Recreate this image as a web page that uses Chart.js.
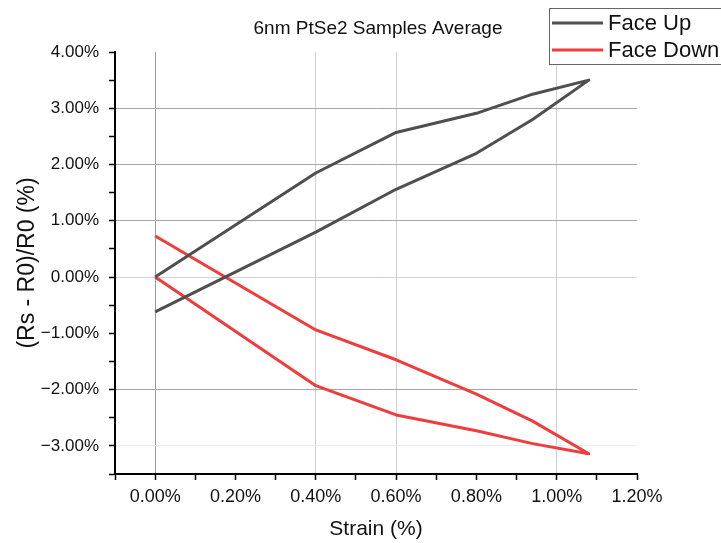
<!DOCTYPE html>
<html>
<head>
<meta charset="utf-8">
<script src="https://cdn.jsdelivr.net/npm/chart.js@4.4.1/dist/chart.umd.min.js"></script>
<style>
  html, body { margin: 0; padding: 0; background: #fff; }
</style>
</head>
<body>
<canvas id="myChart" width="721" height="543"></canvas>
<script>
// Strain (%) and relative resistance change (%)
const strainUp = [0, 0.4, 0.6, 0.8, 0.94, 1.08, 0.94, 0.8, 0.6, 0.4, 0];
const faceUp = [0, 1.85, 2.57, 2.91, 3.25, 3.50, 2.80, 2.20, 1.56, 0.80, -0.62];
const strainDown = [0, 0.4, 0.6, 0.8, 0.94, 1.08, 0.94, 0.8, 0.6, 0.4, 0];
const faceDown = [0, -1.93, -2.45, -2.73, -2.96, -3.14, -2.56, -2.08, -1.47, -0.94, 0.73];

const seriesNames = ['Face Up', 'Face Down'];
const seriesColors = ['#4f4f4f', '#f03c3c'];
const chartTitle = '6nm PtSe2 Samples Average';

const FONT = "'Liberation Sans', Arial, sans-serif";

const toPoints = (xs, ys) => xs.map((x, i) => ({ x: x, y: ys[i] }));
const isMultiple = (v, step) => Math.abs(Math.round(v / step) * step - v) < 1e-6;
const fmtPct = v => (v < -1e-9 ? '\u2212' : '') + Math.abs(v).toFixed(2) + '%';

// grid lines as they show up in the reference (some are lost in resampling)
function xGridColor(v) {
    if (Math.abs(v) < 1e-6) return '#9a9a9a';
    if ([0.4, 0.6, 1.0].some(t => Math.abs(t - v) < 1e-6)) return '#cfcfcf';
    return 'rgba(0,0,0,0)';
}
function yGridColor(v) {
    if ([3, 2, 1, -2].some(t => Math.abs(t - v) < 1e-6)) return '#a5a5a5';
    if (Math.abs(v) < 1e-6) return '#d2d2d2';
    if (Math.abs(v + 3) < 1e-6) return '#ececec';
    return 'rgba(0,0,0,0)';
}

// title and boxed legend, drawn on top of the chart
const overlay = {
    id: 'overlay',
    afterDraw(chart) {
        const ctx = chart.ctx;
        ctx.save();
        ctx.fillStyle = '#111';
        ctx.font = '19px ' + FONT;
        ctx.textAlign = 'center';
        ctx.textBaseline = 'middle';
        ctx.fillText(chartTitle, 378, 29);

        // legend box (runs off the right edge like in the original)
        ctx.fillStyle = '#fff';
        ctx.fillRect(549, 8, 180, 57);
        ctx.strokeStyle = '#666';
        ctx.lineWidth = 1;
        ctx.strokeRect(549.5, 8.5, 180, 56);
        ctx.font = '22px ' + FONT;
        ctx.textAlign = 'left';
        chart.data.datasets.forEach((ds, i) => {
            const y = 23 + i * 27;
            ctx.strokeStyle = ds.borderColor;
            ctx.lineWidth = 3;
            ctx.beginPath();
            ctx.moveTo(552, y);
            ctx.lineTo(603, y);
            ctx.stroke();
            ctx.fillStyle = '#111';
            ctx.fillText(ds.label, 608, y + 1);
        });
        ctx.restore();
    }
};

const ctx = document.getElementById('myChart').getContext('2d');

new Chart(ctx, {
    type: 'scatter',
    data: {
        datasets: [
            {
                label: seriesNames[0],
                data: toPoints(strainUp, faceUp),
                borderColor: seriesColors[0],
                backgroundColor: seriesColors[0],
                borderWidth: 3,
                showLine: true,
                pointRadius: 0,
                borderJoinStyle: 'round'
            },
            {
                label: seriesNames[1],
                data: toPoints(strainDown, faceDown),
                borderColor: seriesColors[1],
                backgroundColor: seriesColors[1],
                borderWidth: 3,
                showLine: true,
                pointRadius: 0,
                borderJoinStyle: 'round'
            }
        ]
    },
    options: {
        responsive: false,
        animation: false,
        layout: { padding: { top: 52, right: 84, left: 0, bottom: 0 } },
        plugins: {
            legend: { display: false },
            title: { display: false },
            tooltip: { enabled: false }
        },
        scales: {
            x: {
                type: 'linear',
                min: -0.1,
                max: 1.2,
                afterFit: s => { s.height = 69; },
                border: { display: true, color: '#000', width: 2 },
                grid: {
                    color: c => xGridColor(c.tick.value),
                    lineWidth: 1,
                    tickColor: '#000',
                    tickWidth: 1.5,
                    tickLength: 6
                },
                ticks: {
                    stepSize: 0.1,
                    autoSkip: false,
                    maxRotation: 0,
                    padding: 6,
                    color: '#111',
                    font: { family: FONT, size: 18 },
                    callback: v => isMultiple(v, 0.2) ? fmtPct(v) : ''
                },
                title: {
                    display: true,
                    text: 'Strain (%)',
                    color: '#111',
                    font: { family: FONT, size: 21 },
                    padding: { top: 0, bottom: 1 }
                }
            },
            y: {
                type: 'linear',
                min: -3.5,
                max: 4,
                afterFit: s => { s.width = 115; },
                border: { display: true, color: '#000', width: 2 },
                grid: {
                    color: c => yGridColor(c.tick.value),
                    lineWidth: 1,
                    tickColor: '#000',
                    tickWidth: 1.5,
                    tickLength: 6
                },
                ticks: {
                    stepSize: 0.5,
                    autoSkip: false,
                    padding: 10,
                    color: '#111',
                    font: { family: FONT, size: 17 },
                    callback: v => isMultiple(v, 1) ? fmtPct(v) : ''
                },
                title: {
                    display: true,
                    text: '(Rs - R0)/R0 (%)',
                    color: '#111',
                    font: { family: FONT, size: 23 },
                    padding: { top: 14, bottom: 0 }
                }
            }
        }
    },
    plugins: [overlay]
});
</script>
</body>
</html>
